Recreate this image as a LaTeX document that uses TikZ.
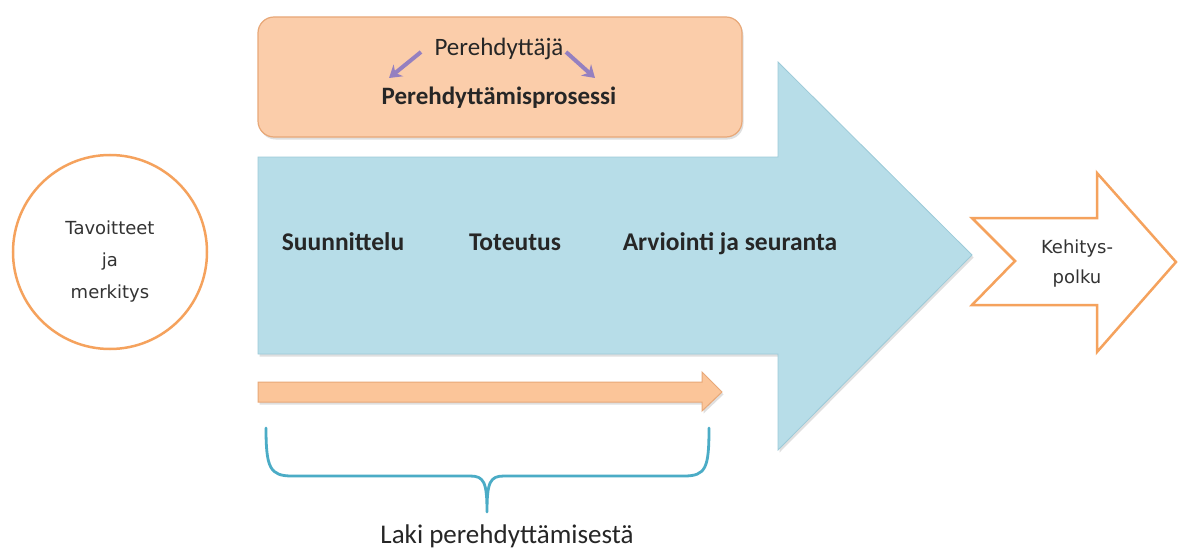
\documentclass[tikz,border=0pt]{standalone}
\usepackage{fontspec}
\setmainfont{Carlito}
\newfontfamily\dvs{DejaVu Sans}
\usetikzlibrary{shadows,arrows.meta}
\definecolor{bluefill}{HTML}{B7DDE8}
\definecolor{blueline}{HTML}{9CCAD8}
\definecolor{orfill}{HTML}{FBCDAA}
\definecolor{orline}{HTML}{E8A878}
\definecolor{orstroke}{HTML}{F5A25D}
\definecolor{teal}{HTML}{4BACC6}
\definecolor{purp}{HTML}{9580C0}
\begin{document}
\begin{tikzpicture}[x=1pt,y=-1pt,
  shad/.style={drop shadow={opacity=0.25,shadow xshift=1.5pt,shadow yshift=-2.5pt}},
  boldlab/.style={font=\bfseries\fontsize{25.5}{30}\selectfont, text=black!85, inner sep=0pt, anchor=base},
  plainlab/.style={font=\fontsize{25}{30}\selectfont, text=black!85, inner sep=0pt, anchor=base},
  smalllab/.style={font=\dvs\fontsize{18}{32}\selectfont, text=black!80, inner sep=0pt, anchor=base},
  purparrow/.style={draw=purp, line width=4pt, -{Stealth[length=12pt,width=15pt]}}
]
\useasboundingbox (0,0) rectangle (1179,551);
\fill[white] (0,0) rectangle (1179,551);

% orange top box
\draw[fill=orfill, draw=orline, line width=1.2pt, rounded corners=16pt, shad] (258,17) rectangle (742,137);
\node[plainlab] (ptaja) at (499,56) {Perehdyttäjä};
\node[boldlab, font=\bfseries\fontsize{25}{30}\selectfont] (pproc) at (499,104) {Perehdyttämisprosessi};
\coordinate (la) at (421,52);
\coordinate (lb) at (389,78);
\coordinate (ra) at (566,52);
\coordinate (rb) at (595,78);
\draw[purparrow] (la) -- (lb);
\draw[purparrow] (ra) -- (rb);

% big blue arrow
\draw[fill=bluefill, draw=blueline, line width=0.8pt, shad]
  (258,157) -- (778,157) -- (778,62) -- (972,255) -- (778,450) -- (778,354) -- (258,354) -- cycle;
\node[boldlab] (suun) at (343,250) {Suunnittelu};
\node[boldlab] (tote) at (515,250) {Toteutus};
\node[boldlab] (arvi) at (730,250) {Arviointi ja seuranta};

% circle
\draw[draw=orstroke, line width=2.5pt, fill=white] (110,252) circle (97);
\node[smalllab] (tav1) at (110,234) {Tavoitteet};
\node[smalllab] (tav2) at (110,266) {ja};
\node[smalllab] (tav3) at (110,298) {merkitys};

% Kehityspolku arrow
\draw[draw=orstroke, line width=2.5pt, fill=white, line join=miter]
  (972,218) -- (1097,218) -- (1097,173) -- (1176,262) -- (1097,352) -- (1097,305) -- (972,305) -- (1015,261) -- cycle;
\node[smalllab] (keh1) at (1077,253) {Kehitys-};
\node[smalllab] (keh2) at (1077,283) {polku};

% small orange arrow
\draw[fill=orfill!90!orange, draw=orline, line width=1pt, shad]
  (258,382) -- (702,382) -- (702,372) -- (722,392) -- (702,411) -- (702,402) -- (258,402) -- cycle;

% brace
\coordinate (bl) at (266,428);
\coordinate (br) at (709,428);
\coordinate (bm) at (487,512);
\draw[teal, line width=2.8pt, line cap=round, line join=round]
  (bl) .. controls (266,468) and (270,476) .. (292,476) -- (470,476)
  .. controls (484,476) and (487,482) .. (bm)
  (bm) .. controls (487,482) and (490,476) .. (504,476) -- (684,476)
  .. controls (706,476) and (709,468) .. (br);
\node[plainlab, font=\fontsize{27}{32}\selectfont] (laki) at (507,543) {Laki perehdyttämisestä};
\end{tikzpicture}
\end{document}
